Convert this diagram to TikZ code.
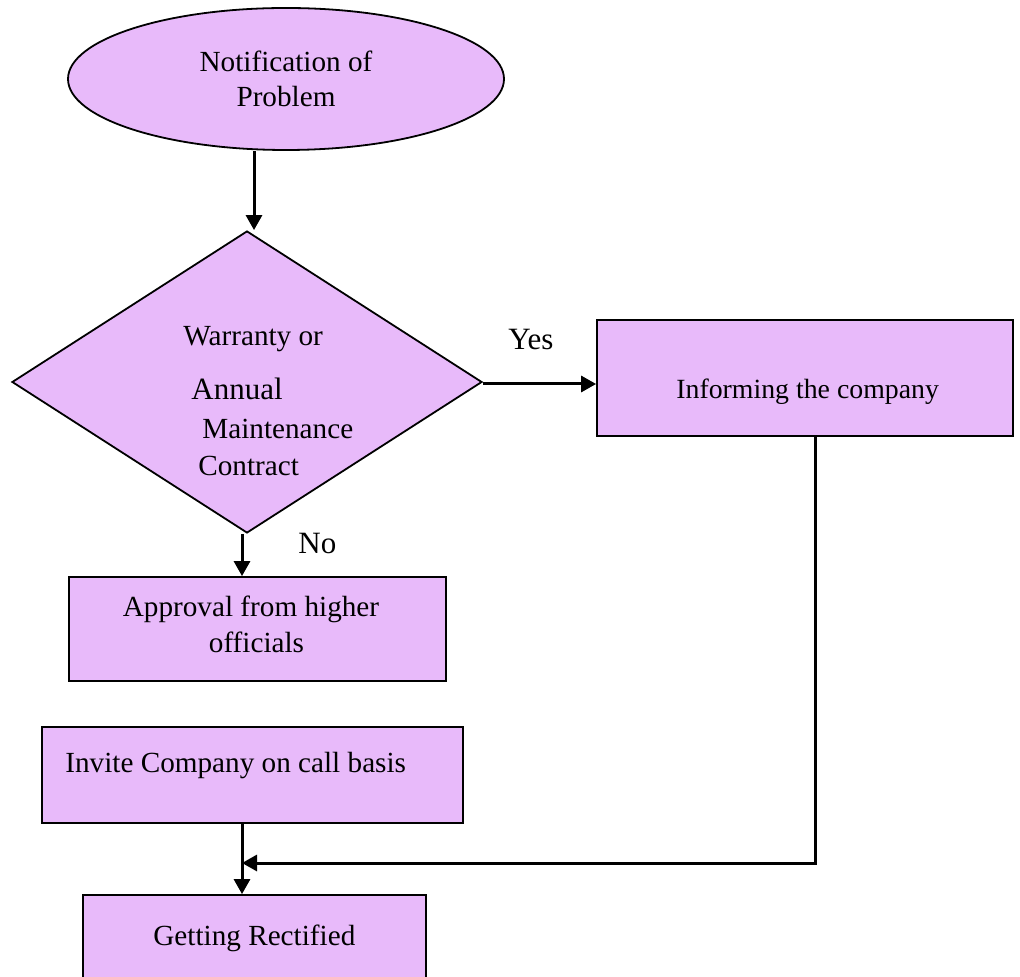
\documentclass[tikz,border=0pt]{standalone}
\usepackage{fontspec}
\setmainfont{Liberation Serif}
\usetikzlibrary{shapes.geometric,arrows.meta}
\definecolor{lilac}{RGB}{232,186,250}

\begin{document}
\begin{tikzpicture}[x=0.5pt,y=-0.5pt,
  plain/.style={draw=black,line width=0.9pt,fill=lilac,inner sep=0pt},
  box/.style={plain,rectangle},
  txt/.style={font=\fontsize{14.6}{17.5}\selectfont,inner sep=0pt,anchor=base west},
  bigtxt/.style={txt,font=\fontsize{15.5}{18}\selectfont},
  conn/.style={line width=1.5pt,-{Triangle[length=7.5pt,width=8pt]}}]
\useasboundingbox (0,0) rectangle (1020,977);
\clip (0,0) rectangle (1020,977);

% Shapes
\node[plain,ellipse,minimum width=218pt,minimum height=71pt,align=center,
  font=\fontsize{14.6}{17.5}\selectfont] (notif) at (286,79) {Notification of\\Problem};
\node[plain,diamond,minimum width=235pt,minimum height=151pt] (warranty) at (247,382) {};
\node[box,minimum width=208pt,minimum height=58pt] (inform) at (805,378) {};
\node[box,minimum width=188.5pt,minimum height=52pt] (approval) at (257.5,629) {};
\node[box,minimum width=210.5pt,minimum height=48pt] (invite) at (252.5,775) {};
\node[box,minimum width=171.5pt,minimum height=60pt] (getting) at (254.5,955) {};

% Texts
\node[txt] (warrantyA) at (183,346) {Warranty or};
\node[bigtxt] (warrantyB) at (191,400) {Annual};
\node[txt] (warrantyC) at (202,438) {Maintenance};
\node[txt] (warrantyD) at (198,475) {Contract};
\node[bigtxt] (yes) at (508,350) {Yes};
\node[bigtxt] (no) at (298,553) {No};
\node[txt,font=\fontsize{13.9}{17}\selectfont] (informtxt) at (676,399) {Informing the company};
\node[txt,anchor=base] (approvalA) at (251,616) {Approval from higher};
\node[txt,anchor=base] (approvalB) at (256.5,652) {officials};
\node[txt] (invitetxt) at (65,772) {Invite Company on call basis};
\node[txt] (gettingtxt) at (153,945) {Getting Rectified};

% Lines
\coordinate (join) at (242,863);
\draw[conn] ([xshift=-16pt]notif.south) -- ([xshift=-16pt]notif.south |- warranty.north);
\draw[conn] ([yshift=-1pt]warranty.east) -- ([yshift=-1pt]warranty.east -| inform.west);
\draw[conn] ([xshift=-2.5pt]warranty.south) -- ([xshift=-2.5pt]warranty.south |- approval.north);
\draw[conn] ([xshift=5pt]inform.south) |- (join);
\draw[conn] (invite.south -| join) -- (getting.north -| join);

\end{tikzpicture}
\end{document}
